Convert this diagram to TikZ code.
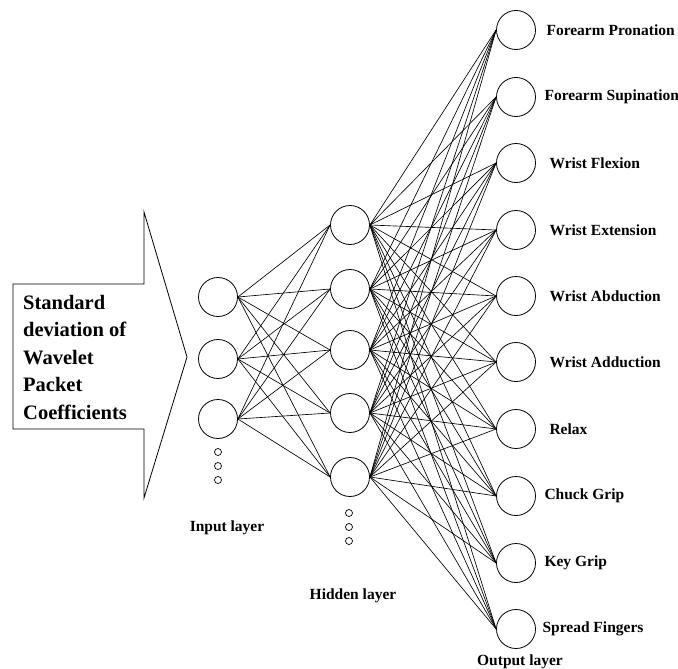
\documentclass[tikz,border=0pt]{standalone}
\usepackage{fontspec}
\setmainfont{Liberation Serif}
\usetikzlibrary{positioning}
\tikzset{
  neuron/.style={draw, circle, minimum size=39pt, inner sep=0pt, line width=0.8pt},
  smalldot/.style={draw, circle, minimum size=7pt, inner sep=0pt, line width=0.7pt},
  layername/.style={font=\fontsize{15.5}{18}\selectfont\bfseries},
  classname/.style={font=\fontsize{15.5}{18}\selectfont\bfseries, anchor=west},
}
\begin{document}
\begin{tikzpicture}[x=1pt, y=-1pt]
      \useasboundingbox (0,0) rectangle (678,669);
      % input arrow
      \draw[line width=0.8pt] (13,284) -- (144,284) -- (144,212) -- (187,357)
        -- (144,498) -- (144,429) -- (13,429) -- cycle;
      \node[anchor=west, align=left, inner sep=0pt,
        font=\fontsize{20.5}{27.5}\selectfont\bfseries] (src) at (23,357)
        {Standard\\deviation of\\Wavelet\\Packet\\Coefficients};
      % layers
      \draw
        (218,297) node[neuron] (i1){}
        (218,359) node[neuron] (i2){}
        (218,419) node[neuron] (i3){}
        (350,225) node[neuron] (h1){}
        (350,289) node[neuron] (h2){}
        (350,350) node[neuron] (h3){}
        (350,413) node[neuron] (h4){}
        (350,477) node[neuron] (h5){}
        (516,30) node[neuron] (o1){}
        (516,97) node[neuron] (o2){}
        (516,163) node[neuron] (o3){}
        (516,230) node[neuron] (o4){}
        (516,296) node[neuron] (o5){}
        (516,362) node[neuron] (o6){}
        (516,429) node[neuron] (o7){}
        (516,496) node[neuron] (o8){}
        (516,563) node[neuron] (o9){}
        (516,629) node[neuron] (o10){};
      \draw
        (218,452) node[smalldot] (id1){}
        (218,466) node[smalldot] (id2){}
        (218,480) node[smalldot] (id3){}
        (349,513) node[smalldot] (hd1){}
        (349,527) node[smalldot] (hd2){}
        (349,541) node[smalldot] (hd3){};
      \begin{scope}[-, line width=0.65pt]
        \foreach \i in {1,...,3}
          \foreach \h in {1,...,5}
            \draw (i\i.east) to (h\h.west);
        \foreach \h in {1,...,5}
          \foreach \o in {1,...,10}
            \draw (h\h.east) to (o\o.west);
      \end{scope}
      % class labels
      \node[classname] (c1) at (543,30) {Forearm Pronation};
      \node[classname] (c2) at (541,97) {Forearm Supination};
      \node[classname] (c3) at (546,163) {Wrist Flexion};
      \node[classname] (c4) at (546,230) {Wrist Extension};
      \node[classname] (c5) at (546,296) {Wrist Abduction};
      \node[classname] (c6) at (546,362) {Wrist Adduction};
      \node[classname] (c7) at (546,429) {Relax};
      \node[classname] (c8) at (541,496) {Chuck Grip};
      \node[classname] (c9) at (541,563) {Key Grip};
      \node[classname] (c10) at (539,629) {Spread Fingers};
      % layer names
      \node[layername] (inname) at (227,528) {Input layer};
      \node[layername] (hidname) at (353,596) {Hidden layer};
      \node[layername] (outname) at (520,662) {Output layer};
    \end{tikzpicture}
\end{document}
